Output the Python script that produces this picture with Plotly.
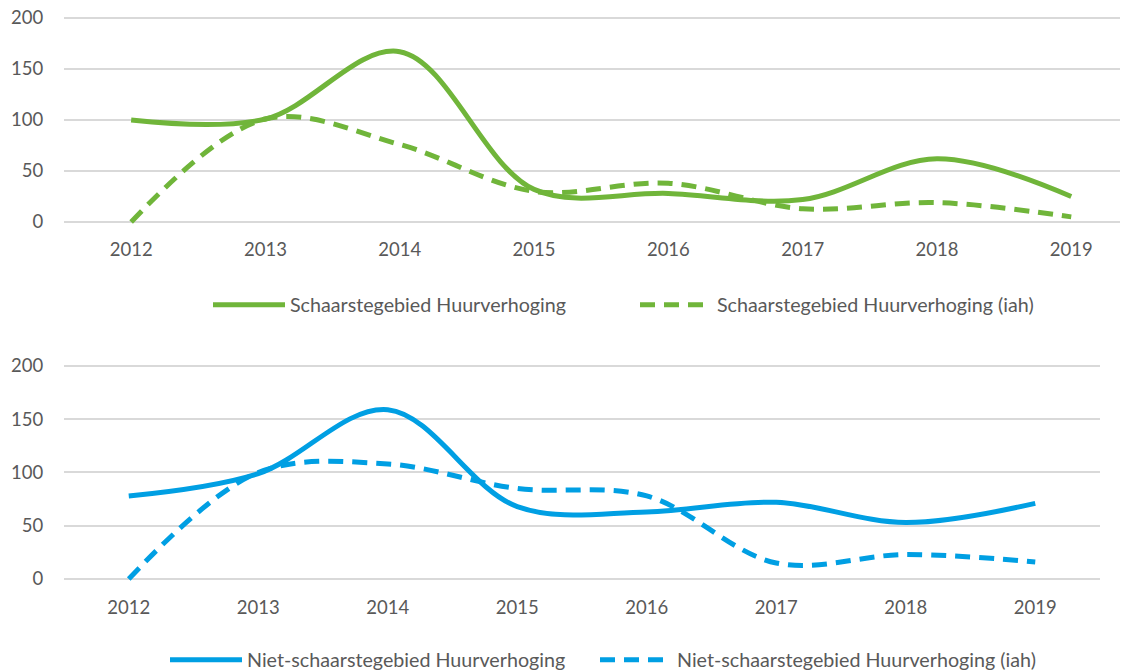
import plotly.graph_objects as go

years = ['2012', '2013', '2014', '2015', '2016', '2017', '2018', '2019']
schaarste = [100, 101, 167, 32, 28, 22, 62, 25]
schaarste_iah = [0, 101, 76, 30, 38, 13, 19, 5]
niet_schaarste = [78, 99, 159, 68, 63, 72, 53, 71]
niet_schaarste_iah = [0, 100, 108, 85, 78, 15, 23, 16]
y_ticks = [0, 50, 100, 150, 200]

GREEN = '#70B53A'
BLUE = '#009FE3'
TXT = '#595959'
GRID = '#D9D9D9'
FONT = 'Lato'

# the page body adds an 8px offset; lay out in figure pixels (screen - 8)
OFF = 8
W, H = 1128 - OFF, 670 - OFF

def px(s):
    return (s - OFF) / W

def py(s):
    return 1 - (s - OFF) / H

fig = go.Figure()

fig.add_trace(go.Scatter(x=years, y=schaarste, name='Schaarstegebied Huurverhoging',
                         mode='lines', line=dict(color=GREEN, width=5, shape='spline', smoothing=1.0),
                         xaxis='x', yaxis='y', legend='legend'))
fig.add_trace(go.Scatter(x=years, y=schaarste_iah, name='Schaarstegebied Huurverhoging (iah)',
                         mode='lines', line=dict(color=GREEN, width=5, shape='spline', smoothing=1.0, dash='15px,9px'),
                         xaxis='x', yaxis='y', legend='legend2'))
fig.add_trace(go.Scatter(x=years, y=niet_schaarste, name='Niet-schaarstegebied Huurverhoging',
                         mode='lines', line=dict(color=BLUE, width=5, shape='spline', smoothing=1.0),
                         xaxis='x2', yaxis='y2', legend='legend3'))
fig.add_trace(go.Scatter(x=years, y=niet_schaarste_iah, name='Niet-schaarstegebied Huurverhoging (iah)',
                         mode='lines', line=dict(color=BLUE, width=5, shape='spline', smoothing=1.0, dash='15px,9px'),
                         xaxis='x2', yaxis='y2', legend='legend4'))

# pixel geometry (screen coordinates of reference)
top_ppu = (222 - 18) / 200
bot_ppu = (579 - 366) / 200
lo, hi = -8, 205

xcommon = dict(type='category', showgrid=False, zeroline=False, showline=False,
               ticks='outside', ticklen=3, tickcolor='rgba(0,0,0,0)',
               tickfont=dict(family=FONT, size=18.5, color=TXT))
ycommon = dict(showgrid=True, gridcolor=GRID, gridwidth=1.5, zeroline=False, showline=False,
               tickvals=y_ticks, ticks='outside', ticklen=16, tickcolor='rgba(0,0,0,0)',
               ticklabeloverflow='allow',
               tickfont=dict(family=FONT, size=18.5, color=TXT), range=[lo, hi])

LEG_PAD = 5
legcommon = dict(orientation='h', xanchor='left', yanchor='middle',
                 font=dict(family=FONT, size=19.7, color=TXT), itemwidth=72,
                 bgcolor='rgba(0,0,0,0)')

fig.update_layout(
    width=W, height=H, margin=dict(l=0, r=0, t=0, b=0, autoexpand=False),
    paper_bgcolor='white', plot_bgcolor='white',
    font=dict(family=FONT, color=TXT),
    xaxis=dict(xcommon, domain=[px(64), 1.0], range=[-0.5, -0.5 + (1128 - 64) / 134.3], anchor='y'),
    yaxis=dict(ycommon, domain=[py(222 - lo * top_ppu), py(18 - (hi - 200) * top_ppu)], anchor='x'),
    xaxis2=dict(xcommon, domain=[px(64), px(1100)], range=[-0.5, 7.5], anchor='y2'),
    yaxis2=dict(ycommon, domain=[py(579 - lo * bot_ppu), py(366 - (hi - 200) * bot_ppu)], anchor='x2'),
    legend=dict(legcommon, x=px(213 - LEG_PAD), y=py(305)),
    legend2=dict(legcommon, x=px(640 - LEG_PAD), y=py(305)),
    legend3=dict(legcommon, x=px(170 - LEG_PAD), y=py(660)),
    legend4=dict(legcommon, x=px(600 - LEG_PAD), y=py(660)),
    showlegend=True,
)

fig.write_html('out.html')
